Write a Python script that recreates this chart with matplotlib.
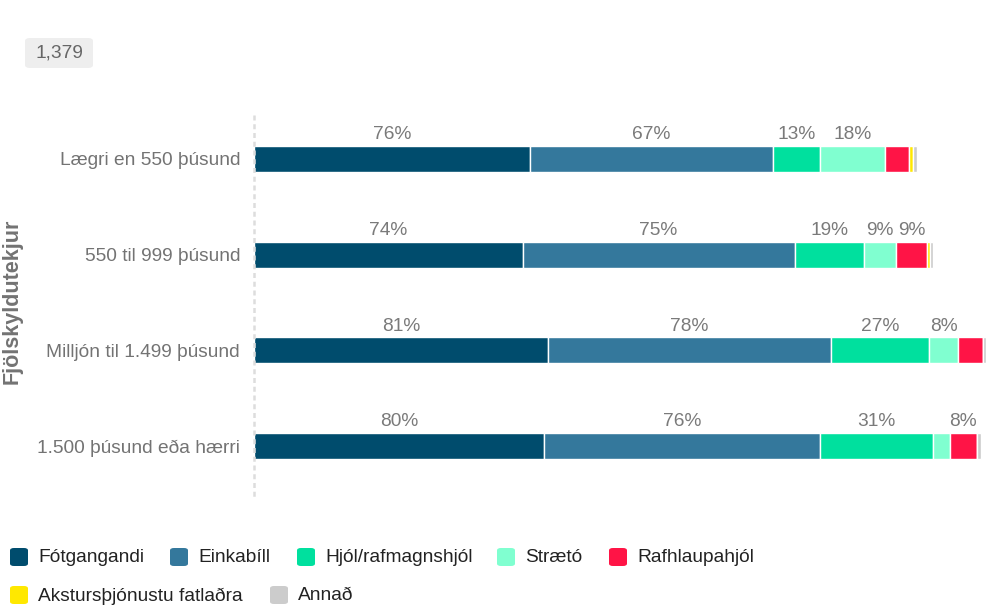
import matplotlib.pyplot as plt
from matplotlib.patches import FancyBboxPatch
import numpy as np

plt.rcParams['font.family'] = ['Liberation Sans', 'DejaVu Sans']

# Categories (income groups) and response share per travel mode, in %
categories = ["Lægri en 550 þúsund", "550 til 999 þúsund",
              "Milljón til 1.499 þúsund", "1.500 þúsund eða hærri"]
modes = ["Fótgangandi", "Einkabíll", "Hjól/rafmagnshjól", "Strætó",
         "Rafhlaupahjól", "Akstursþjónustu fatlaðra", "Annað"]
fotgangandi = [76, 74, 81, 80]
einkabill = [67, 75, 78, 76]
hjol = [13, 19, 27, 31]
straeto = [18, 9, 8, 4.7]
rafhlaupahjol = [6.6, 8.6, 7, 7.6]
akstur = [1, 0.6, 0, 0]
annad = [1, 0.8, 0.6, 1.1]
total_n = "1,379"

series = [fotgangandi, einkabill, hjol, straeto, rafhlaupahjol, akstur, annad]
colors = ["#004c6d", "#34789c", "#00e09e", "#80ffd0", "#ff1446", "#ffe800", "#cccccc"]

fig = plt.figure(figsize=(9.87, 6.08), dpi=100)
ax = fig.add_axes([254/987, 1 - 495/608, 1 - 254/987, 385/608])

y = np.arange(len(categories))
left = np.zeros(len(categories))
for vals, col in zip(series, colors):
    vals = np.array(vals, dtype=float)
    ax.barh(y, vals, left=left, height=0.27, color=col, edgecolor="white", linewidth=1)
    for yi, l, v in zip(y, left, vals):
        if v >= 7.5:
            ax.text(l + v / 2, yi - 0.165, f"{v:.0f}%", ha="center", va="bottom",
                    fontsize=13.8, color="#7a7a7a")
    left += vals

ax.set_xlim(0, 202)
ax.set_ylim(3.512, -0.512)
ax.set_yticks(y)
ax.set_yticklabels(categories, fontsize=13.8, color="#737373")
ax.tick_params(axis="y", length=0, pad=10)
ax.set_xticks([])
for s in ["top", "right", "bottom"]:
    ax.spines[s].set_visible(False)
ax.spines["left"].set_color("#dddddd")
ax.spines["left"].set_linestyle((0, (1, 2.5)))
ax.spines["left"].set_linewidth(1.8)

fig.text(12/987, 1 - 301/608, "Fjölskyldutekjur", rotation=90, ha="center", va="center",
         fontsize=15.5, fontweight="bold", color="#737373")

# n badge
fig.patches.append(FancyBboxPatch((25/987, 1 - 68/608), 68/987, 30/608,
                                  boxstyle="round,pad=0,rounding_size=0.005",
                                  transform=fig.transFigure, facecolor="#eeeeee",
                                  edgecolor="none"))
fig.text(59/987, 1 - 53/608, total_n, ha="center", va="center", fontsize=13.8, color="#666666")

# legend laid out in a flowing row
legend_pos = [(10, 557), (170, 557), (297, 557), (497, 557), (609, 557), (10, 595), (270, 595)]
for (lx, ly), name, col in zip(legend_pos, modes, colors):
    fig.patches.append(FancyBboxPatch((lx / 987, 1 - (ly + 9) / 608), 18 / 987, 18 / 608,
                                      boxstyle="round,pad=0,rounding_size=0.004",
                                      transform=fig.transFigure, facecolor=col,
                                      edgecolor="none"))
    fig.text((lx + 28) / 987, 1 - (ly + 1) / 608, name, ha="left", va="center",
             fontsize=13.8, color="#222222")

fig.savefig("out.png", dpi=100)
